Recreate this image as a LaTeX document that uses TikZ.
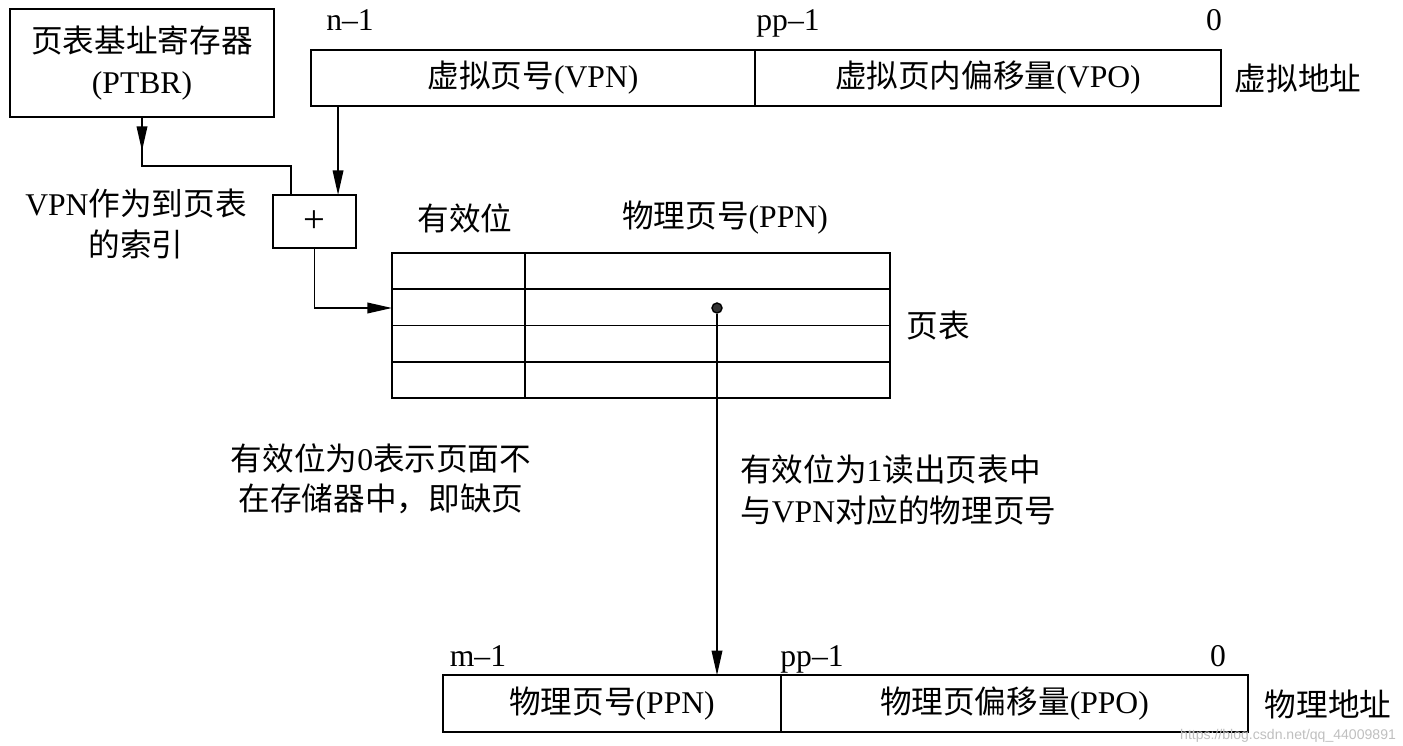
\documentclass[tikz,border=0pt]{standalone}
\usepackage{fontspec}
\setmainfont{Liberation Serif}
\newfontfamily\cjk{Noto Sans CJK SC}
\newfontfamily\wmfont{Liberation Sans}
\usepackage{tikz}
\usetikzlibrary{positioning}
\usetikzlibrary{arrows.meta}
\usetikzlibrary{calc}

\begin{document}
\begin{tikzpicture}[x=0.02cm, y=-0.02cm,
font=\fontsize{18}{23}\selectfont,
regbox/.style={rectangle, draw=black, line width=1pt, outer sep=0pt, align=center},
fieldbox/.style={rectangle, draw=black, line width=1pt, outer sep=0pt, minimum height=1.13cm},
addbox/.style={rectangle, draw=black, line width=1pt, outer sep=0pt, minimum width=1.66cm, minimum height=1.06cm, font=\fontsize{22}{24}\selectfont},
tablebox/.style={rectangle, draw=black, line width=1pt, outer sep=0pt, minimum width=9.96cm, minimum height=2.9cm},
entrydot/.style={circle, draw=black, fill=black!80, line width=0.8pt, inner sep=0pt, minimum size=0.2cm},
bitlabel/.style={anchor=base},
arrowline/.style={line width=1pt, -{Triangle[length=14pt, width=6pt]}},
plainline/.style={line width=1pt},
]
\useasboundingbox (0,0) rectangle (1403,746);

%Nodes
\node[regbox, minimum width=5.28cm, minimum height=2.16cm] (ptbr) at (142,63) {{\cjk 页表基址寄存器}\\(PTBR)};
\node[fieldbox, minimum width=8.88cm] (vpn) at (533,78) {{\cjk 虚拟页号}(VPN)};
\node[fieldbox, minimum width=9.32cm] (vpo) [right=0pt of vpn] {{\cjk 虚拟页内偏移量}(VPO)};
\node (vaddr) at (1298,78) {\cjk 虚拟地址};
\node[bitlabel] (nbit) at (350,31) {n--1};
\node[bitlabel] (pbit) at (788,31) {pp--1};
\node[bitlabel] (zbit) at (1214,31) {0};

\node[addbox] (plus) at (314.5,221.5) {+};
\node[align=center] (index) at (136,224) {VPN{\cjk 作为到页表}\\{\cjk 的索引}};

\node[tablebox] (pt) at (641,325.5) {};
\node (validhead) at (465,218) {\cjk 有效位};
\node (ppnhead) at (725,218) {{\cjk 物理页号}(PPN)};
\node (ptlabel) at (938,326) {\cjk 页表};
\node[entrydot] (entry) at (717,308) {};

\node[align=center] (miss) at (381,479) {{\cjk 有效位为}0{\cjk 表示页面不}\\{\cjk 在存储器中，即缺页}};
\node[align=left, anchor=west] (hit) at (734,490) {{\cjk 有效位为}1{\cjk 读出页表中}\\{\cjk 与}VPN{\cjk 对应的物理页号}};

\node[fieldbox, minimum width=6.76cm] (ppn) at (612,703.5) {{\cjk 物理页号}(PPN)};
\node[fieldbox, minimum width=9.34cm] (ppo) [right=0pt of ppn] {{\cjk 物理页偏移量}(PPO)};
\node (paddr) at (1328,704) {\cjk 物理地址};
\node[bitlabel] (mbit) at (478,666) {m--1};
\node[bitlabel] (qbit) at (812,666) {pp--1};
\node[bitlabel] (ybit) at (1218,666) {0};
\node[text=black!25, font=\wmfont\fontsize{8}{9}\selectfont, anchor=east, inner sep=1pt] (mark) at (1398,736) {https://blog.csdn.net/qq\_44009891};

%Table rows
\foreach \f in {0.25,0.5,0.75}
  \draw[plainline] ($(pt.north west)!\f!(pt.south west)$) -- ($(pt.north east)!\f!(pt.south east)$);
\draw[plainline] ($(pt.north west)!0.267!(pt.north east)$) -- ($(pt.south west)!0.267!(pt.south east)$);

%Lines
\coordinate (turn) at ([yshift=-0.98cm]ptbr.south);
\draw[arrowline, shorten >=0.3cm] (ptbr.south) -- (turn);
\draw[plainline] (ptbr.south) -- (turn) -| ([xshift=0.36cm]plus.north west);
\draw[arrowline] ([xshift=0.54cm]vpn.south west) -- ([xshift=0.54cm]vpn.south west |- plus.north);
\draw[arrowline] (plus.south) |- (pt.west |- entry);
\draw[arrowline] (entry) -- (entry |- ppn.north);
\end{tikzpicture}
\end{document}
